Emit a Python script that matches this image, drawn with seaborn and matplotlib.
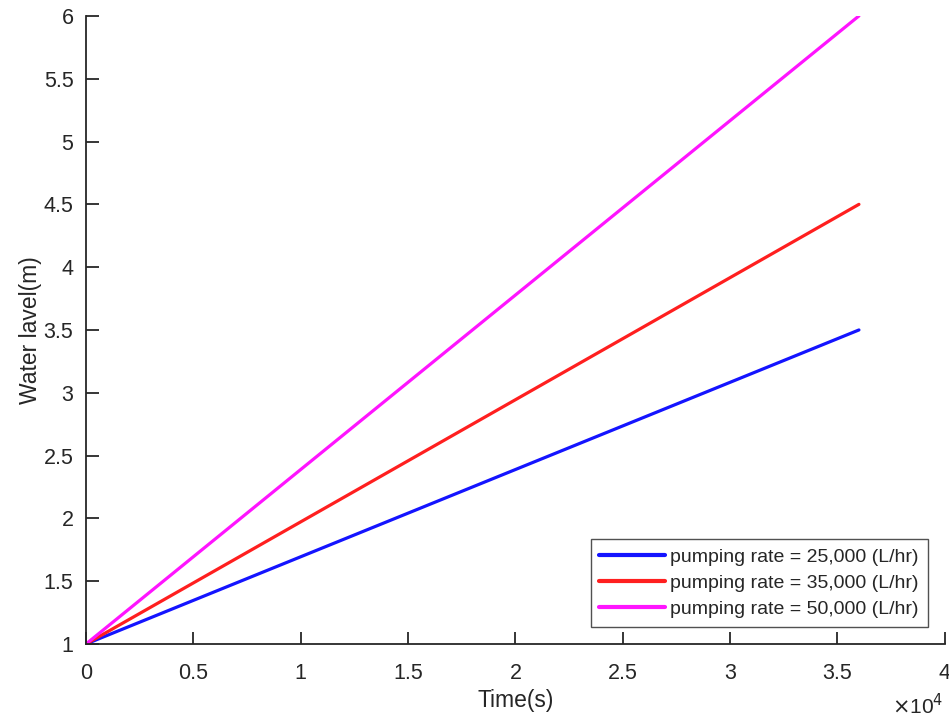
import matplotlib

matplotlib.use("Agg")

import matplotlib.pyplot as plt
import pandas as pd
import seaborn as sns

# values
time_s = [0, 9000, 18000, 27000, 36000]
level_25k = [1.0, 1.625, 2.25, 2.875, 3.5]
level_35k = [1.0, 1.875, 2.75, 3.625, 4.5]
level_50k = [1.0, 2.25, 3.5, 4.75, 6.0]
labels = [
    "pumping rate = 25,000 (L/hr)",
    "pumping rate = 35,000 (L/hr)",
    "pumping rate = 50,000 (L/hr)",
]
colors = ["#1414ff", "#ff1f1f", "#ff14ff"]

sns.set_theme(style="white")
plt.rcParams["font.family"] = ["Liberation Sans", "DejaVu Sans"]
ink = "#262626"

frames = []
for label, level in zip(labels, [level_25k, level_35k, level_50k]):
    frames.append(pd.DataFrame({"time": time_s, "level": level, "rate": label}))
data = pd.concat(frames, ignore_index=True)

fig = plt.figure(figsize=(9.49, 7.17), dpi=100)
ax = fig.add_axes([0.0906, 0.1018, 0.905, 0.876])

sns.lineplot(
    data=data,
    x="time",
    y="level",
    hue="rate",
    palette=dict(zip(labels, colors)),
    linewidth=2.3,
    ax=ax,
)

ax.set_xlim(0, 40000)
ax.set_ylim(1, 6)
ax.set_xticks([0, 5000, 10000, 15000, 20000, 25000, 30000, 35000, 40000])
ax.set_xticklabels(["0", "0.5", "1", "1.5", "2", "2.5", "3", "3.5", "4"])
ax.set_yticks([1, 1.5, 2, 2.5, 3, 3.5, 4, 4.5, 5, 5.5, 6])
ax.set_yticklabels(["1", "1.5", "2", "2.5", "3", "3.5", "4", "4.5", "5", "5.5", "6"])

for side in ["top", "right"]:
    ax.spines[side].set_visible(False)
for side in ["left", "bottom"]:
    ax.spines[side].set_color(ink)
    ax.spines[side].set_linewidth(1.3)
ax.tick_params(bottom=True, left=True, direction="in", length=9, width=1.3,
               colors=ink, labelsize=15.5)
ax.tick_params(axis="x", pad=14)
ax.tick_params(axis="y", pad=9)

ax.set_xlabel("Time(s)", fontsize=16.5, color=ink, labelpad=3)
ax.set_ylabel("Water lavel(m)", fontsize=16.5, color=ink, labelpad=1)
ax.text(0.998, -0.078, r"$\times$10$^4$", transform=ax.transAxes, ha="right", va="top",
        fontsize=15, color=ink)

leg = ax.legend(
    loc="lower right",
    bbox_to_anchor=(0.98, 0.027),
    fontsize=14,
    frameon=True,
    fancybox=False,
    handlelength=3.35,
    handletextpad=0.3,
    labelspacing=0.45,
    borderpad=0.45,
    borderaxespad=0,
    title=None,
)
leg.get_frame().set_edgecolor(ink)
leg.get_frame().set_linewidth(1.0)
for line in leg.get_lines():
    line.set_linewidth(3)
for text in leg.get_texts():
    text.set_color(ink)

fig.savefig("out.png", dpi=100)
